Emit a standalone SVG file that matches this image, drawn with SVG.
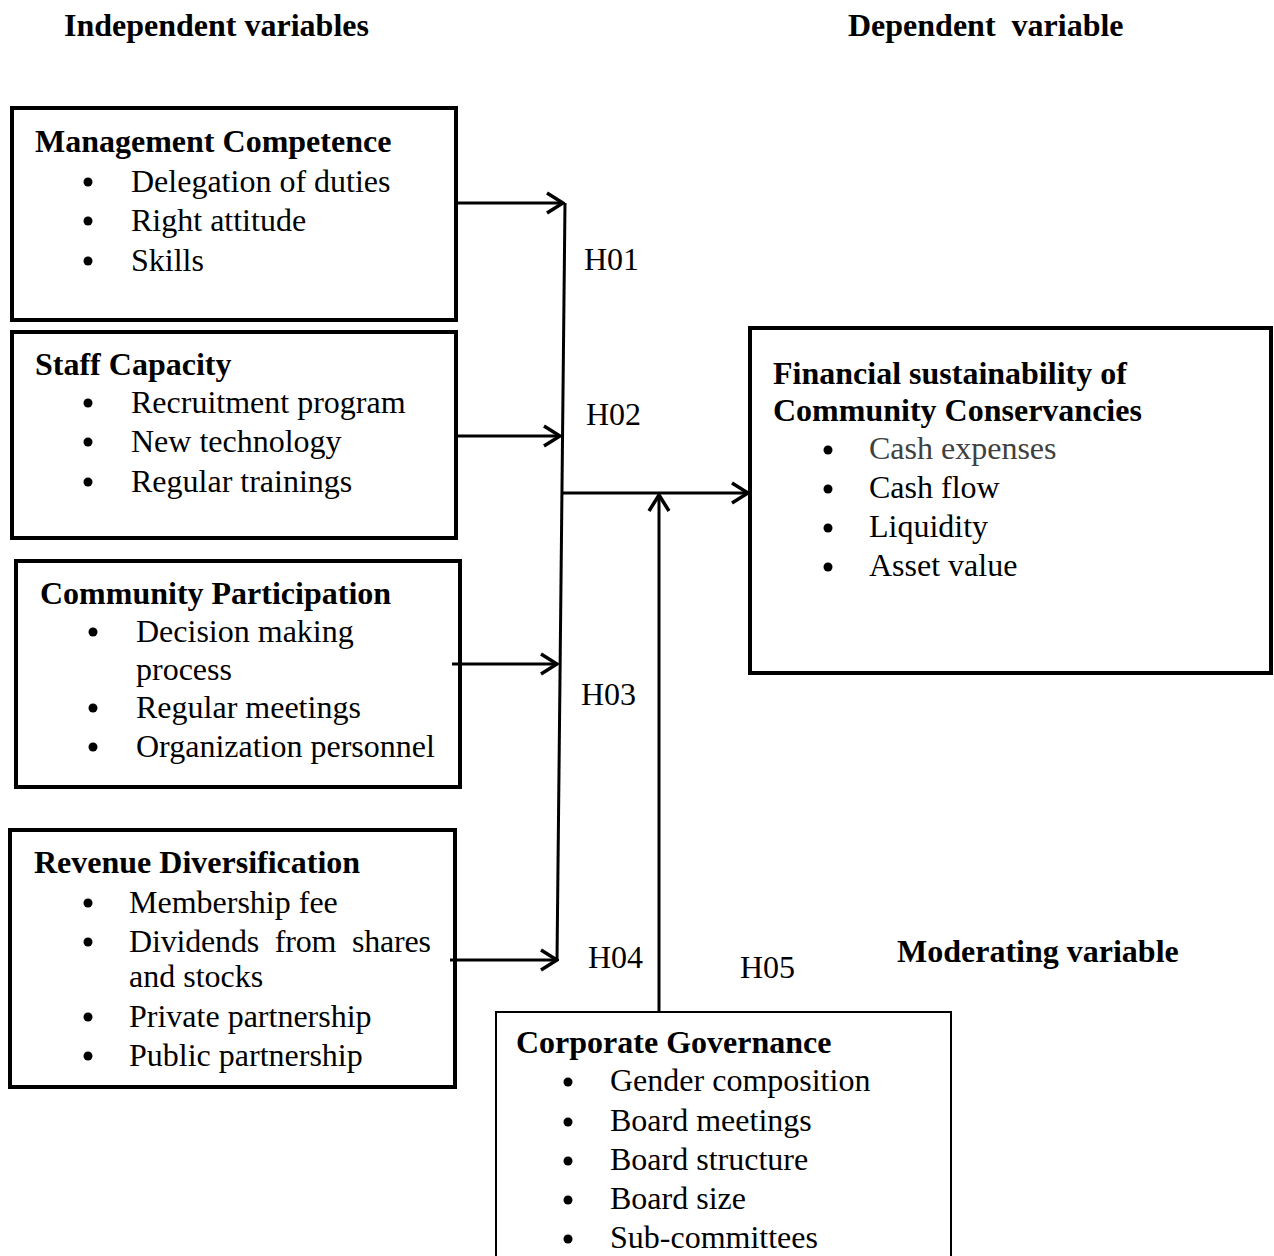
<svg xmlns="http://www.w3.org/2000/svg" width="1274" height="1256" viewBox="0 0 1274 1256">
<style>
text{font-family:"Liberation Serif","Times New Roman",serif;font-size:32px;fill:#000}
.b{font-weight:bold}
.box{fill:#fff;stroke:#000;stroke-width:4}
.thin{fill:#fff;stroke:#000;stroke-width:2}
.ln{stroke:#000;stroke-width:3;fill:none}
.dot{fill:#000}
</style>
<defs>
<marker id="ah" viewBox="0 0 20 24" refX="18" refY="12" markerWidth="20" markerHeight="24" markerUnits="userSpaceOnUse" orient="auto">
<path d="M2,2 L18,12 L2,22" fill="none" stroke="#000" stroke-width="3.5"/>
</marker>
</defs>

<text class="b" x="64" y="36">Independent variables</text>
<text class="b" x="848" y="36" xml:space="preserve">Dependent  variable</text>
<text class="b" x="897" y="962">Moderating variable</text>

<g id="management">
<rect class="box" x="12" y="108" width="444" height="212"/>
<text class="b" x="35" y="152">Management Competence</text>
<circle class="dot" cx="88" cy="182" r="4.5"/><text x="131" y="192">Delegation of duties</text>
<circle class="dot" cx="88" cy="221" r="4.5"/><text x="131" y="231">Right attitude</text>
<circle class="dot" cx="88" cy="261" r="4.5"/><text x="131" y="271">Skills</text>
</g>

<g id="staff">
<rect class="box" x="12" y="332" width="444" height="206"/>
<text class="b" x="35" y="375">Staff Capacity</text>
<circle class="dot" cx="88" cy="403" r="4.5"/><text x="131" y="413">Recruitment program</text>
<circle class="dot" cx="88" cy="442" r="4.5"/><text x="131" y="452">New technology</text>
<circle class="dot" cx="88" cy="482" r="4.5"/><text x="131" y="492">Regular trainings</text>
</g>

<g id="community">
<rect class="box" x="16" y="561" width="444" height="226"/>
<text class="b" x="40" y="604">Community Participation</text>
<circle class="dot" cx="93" cy="632" r="4.5"/><text x="136" y="642">Decision making</text>
<text x="136" y="680">process</text>
<circle class="dot" cx="93" cy="708" r="4.5"/><text x="136" y="718">Regular meetings</text>
<circle class="dot" cx="93" cy="747" r="4.5"/><text x="136" y="757">Organization personnel</text>
</g>

<g id="revenue">
<rect class="box" x="10" y="830" width="445" height="257"/>
<text class="b" x="34" y="873">Revenue Diversification</text>
<circle class="dot" cx="88" cy="903" r="4.5"/><text x="129" y="913">Membership fee</text>
<circle class="dot" cx="88" cy="942" r="4.5"/><text x="129" y="952" textLength="302" lengthAdjust="spacing" xml:space="preserve">Dividends  from  shares</text>
<text x="129" y="987">and stocks</text>
<circle class="dot" cx="88" cy="1017" r="4.5"/><text x="129" y="1027">Private partnership</text>
<circle class="dot" cx="88" cy="1056" r="4.5"/><text x="129" y="1066">Public partnership</text>
</g>

<g id="financial">
<rect class="box" x="750" y="328" width="521" height="345"/>
<text class="b" x="773" y="384">Financial sustainability of</text>
<text class="b" x="773" y="421">Community Conservancies</text>
<circle class="dot" cx="828" cy="450" r="4.5"/><text x="869" y="459" style="fill:#404040">Cash expenses</text>
<circle class="dot" cx="828" cy="489" r="4.5"/><text x="869" y="498">Cash flow</text>
<circle class="dot" cx="828" cy="528" r="4.5"/><text x="869" y="537">Liquidity</text>
<circle class="dot" cx="828" cy="567" r="4.5"/><text x="869" y="576">Asset value</text>
</g>

<g id="governance">
<rect class="thin" x="496" y="1012" width="455" height="260"/>
<text class="b" x="516" y="1053">Corporate Governance</text>
<circle class="dot" cx="568" cy="1082" r="4.5"/><text x="610" y="1091">Gender composition</text>
<circle class="dot" cx="568" cy="1122" r="4.5"/><text x="610" y="1131">Board meetings</text>
<circle class="dot" cx="568" cy="1161" r="4.5"/><text x="610" y="1170">Board structure</text>
<circle class="dot" cx="568" cy="1200" r="4.5"/><text x="610" y="1209">Board size</text>
<circle class="dot" cx="568" cy="1239" r="4.5"/><text x="610" y="1248">Sub-committees</text>
</g>

<g id="connectors">
<line class="ln" x1="456" y1="203" x2="563" y2="203" marker-end="url(#ah)"/>
<line class="ln" x1="456" y1="436" x2="560" y2="436" marker-end="url(#ah)"/>
<line class="ln" x1="452" y1="664" x2="557" y2="664" marker-end="url(#ah)"/>
<line class="ln" x1="450" y1="960" x2="557" y2="960" marker-end="url(#ah)"/>
<line class="ln" x1="565" y1="203" x2="557" y2="961"/>
<line class="ln" x1="563" y1="493" x2="748" y2="493" marker-end="url(#ah)"/>
<line class="ln" x1="659" y1="1012" x2="659" y2="495" marker-end="url(#ah)"/>
</g>

<g id="labels">
<text x="584" y="270">H01</text>
<text x="586" y="425">H02</text>
<text x="581" y="705">H03</text>
<text x="588" y="968">H04</text>
<text x="740" y="978">H05</text>
</g>
</svg>
